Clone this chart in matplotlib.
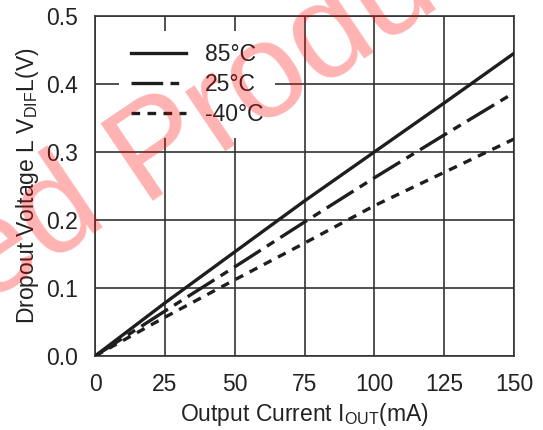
import matplotlib
matplotlib.use('Agg')
import matplotlib.pyplot as plt

plt.rcParams['font.family'] = ['Liberation Sans', 'DejaVu Sans']
plt.rcParams['mathtext.default'] = 'regular'

# output current (mA)
iout = [0, 25, 50, 75, 100, 125, 150]
# dropout voltage (V) per temperature
v_85 = [0, 0.078, 0.153, 0.228, 0.300, 0.372, 0.445]
v_25 = [0, 0.066, 0.131, 0.197, 0.262, 0.325, 0.387]
v_m40 = [0, 0.057, 0.112, 0.166, 0.221, 0.270, 0.319]
labels = ['85°C', '25°C', '-40°C']

xticks = [0, 25, 50, 75, 100, 125, 150]
yticks = [0.0, 0.1, 0.2, 0.3, 0.4, 0.5]

fs = 16.5
fig = plt.figure(figsize=(5.43, 4.30), dpi=100)
ax = fig.add_axes([0.175, 0.172, 0.7716, 0.791])

lc = '#1e1e1e'
ax.plot(iout, v_85, color=lc, lw=2.4, ls='-', label=labels[0], zorder=3)
ax.plot(iout, v_25, color=lc, lw=2.4, ls=(0, (9.5, 2.2, 2.6, 2.2)), label=labels[1], zorder=3)
ax.plot(iout, v_m40, color=lc, lw=2.4, ls=(0, (2.6, 2.2)), label=labels[2], zorder=3)

ax.set_xlim(0, 150)
ax.set_ylim(0, 0.5)
ax.set_xticks(xticks)
ax.set_yticks(yticks)
ax.set_yticklabels([f'{v:.1f}' for v in yticks])
ax.tick_params(axis='x', length=0, labelsize=fs, pad=12, colors='#222222')
ax.tick_params(axis='y', length=0, labelsize=fs, pad=12, colors='#222222')
ax.grid(True, color='#333333', lw=1.2)
for sp in ax.spines.values():
    sp.set_color('#333333')
    sp.set_linewidth(1.2)

ax.set_xlabel('Output Current I$_{OUT}$(mA)', fontsize=fs, color='#222222', labelpad=4)
ax.set_ylabel('Dropout Voltage L V$_{DIF}$L(V)', fontsize=fs, color='#222222', labelpad=4)

leg = ax.legend(loc='upper left', bbox_to_anchor=(0.058, 0.955), frameon=True,
                fontsize=fs, handlelength=2.4, handletextpad=0.85,
                labelspacing=0.32, borderpad=0.5, borderaxespad=0, fancybox=False)
leg.get_frame().set_facecolor('white')
leg.get_frame().set_edgecolor('none')
leg.get_frame().set_alpha(1)
for t in leg.get_texts():
    t.set_color('#222222')

# watermark, anchored at the start of "Product"
wx, wy = 142 / 543, 1 - 200 / 430
wm = dict(fontsize=98, color='red', alpha=0.3, rotation=34,
          rotation_mode='anchor', va='baseline', zorder=10)
fig.text(wx, wy, 'Discontinued ', ha='right', **wm)
fig.text(wx, wy, 'Product', ha='left', **wm)

fig.savefig('out.png', dpi=100)
